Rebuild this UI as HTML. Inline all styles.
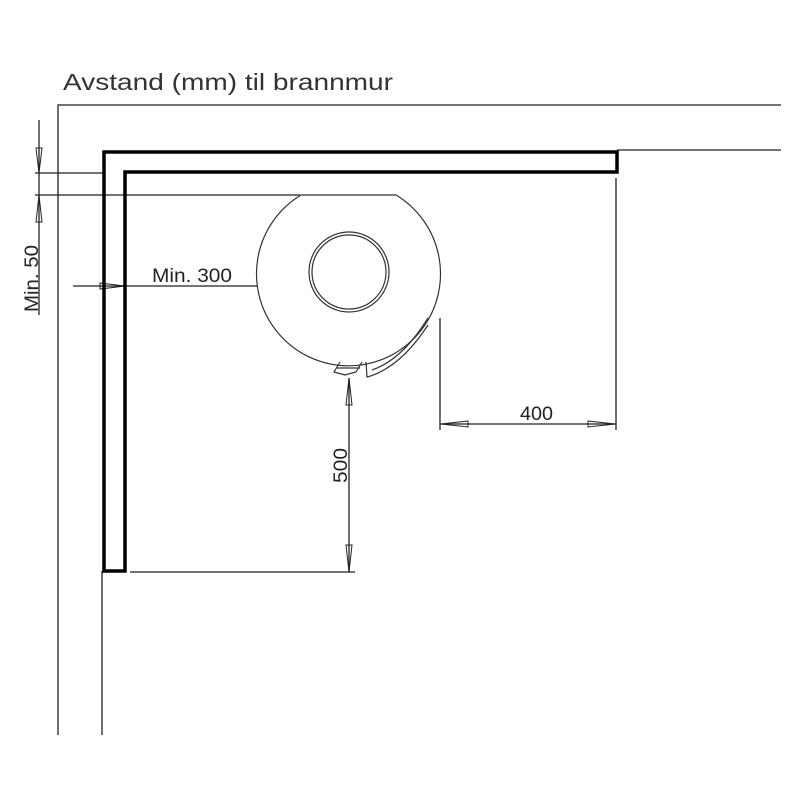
<!DOCTYPE html>
<html><head><style>
html,body{margin:0;padding:0;background:#fff}
svg{display:block}
text{font-family:"Liberation Sans",sans-serif;fill:#222}
</style></head><body>
<svg width="800" height="800" viewBox="0 0 800 800" xmlns="http://www.w3.org/2000/svg">
<text x="63" y="90" font-size="23" textLength="330" lengthAdjust="spacingAndGlyphs" style="fill:#333">Avstand (mm) til brannmur</text>
<g stroke="#222" fill="none" stroke-width="1.3">
<path d="M58 735 V105 H781"/>
<path d="M617 150 H781"/>
<path d="M102 571 V735"/>
<path d="M39 120 V315"/>
<path d="M35 173 H104"/>
<path d="M35 195 H300"/>
<path d="M616 178 V430"/>
<path d="M440 318 V430"/>
<path d="M440 424 H616"/>
<path d="M130 572 H355"/>
<path d="M349 378 V572"/>
<path d="M73 286 H290"/>
</g>
<g stroke="#222" fill="none" stroke-width="1">
<path d="M36 148 L39 173 L42 148 Z"/>
<path d="M36 222 L39 195 L42 222 Z"/>
<path d="M100 283 L125 286 L100 289 Z"/>
<path d="M283 283 L258 286 L283 289 Z"/>
<path d="M468 421 L441 424 L468 427 Z"/>
<path d="M588 421 L615 424 L588 427 Z"/>
<path d="M346 405 L349 378 L352 405 Z"/>
<path d="M346 545 L349 572 L352 545 Z"/>
</g>
<path d="M104 571 V152 H617 V172 H125 V571 Z" fill="none" stroke="#000" stroke-width="3.5"/>
<g stroke="#333" fill="none" stroke-width="1.2">
<path d="M301 195 H396 A92 92 0 1 1 301 195 Z" fill="#fff"/>
<circle cx="349" cy="272" r="40"/>
<circle cx="349" cy="272" r="37"/>
<path d="M340 362 L334 372 L345 375 L356 372 L362 362"/>
<path d="M337 368 H360"/>
<path d="M366 362 L367 377 Q400 368 428 325"/>
<path d="M372 370 Q402 360 428 318"/>
</g>
<text x="152" y="282" font-size="19" textLength="80" lengthAdjust="spacingAndGlyphs">Min. 300</text>
<text x="520" y="420" font-size="19" textLength="33" lengthAdjust="spacingAndGlyphs">400</text>
<text transform="translate(347,483) rotate(-90)" font-size="19" textLength="35" lengthAdjust="spacingAndGlyphs">500</text>
<text transform="translate(38,312) rotate(-90)" font-size="19" textLength="67" lengthAdjust="spacingAndGlyphs">Min. 50</text>
</svg>
</body></html>
